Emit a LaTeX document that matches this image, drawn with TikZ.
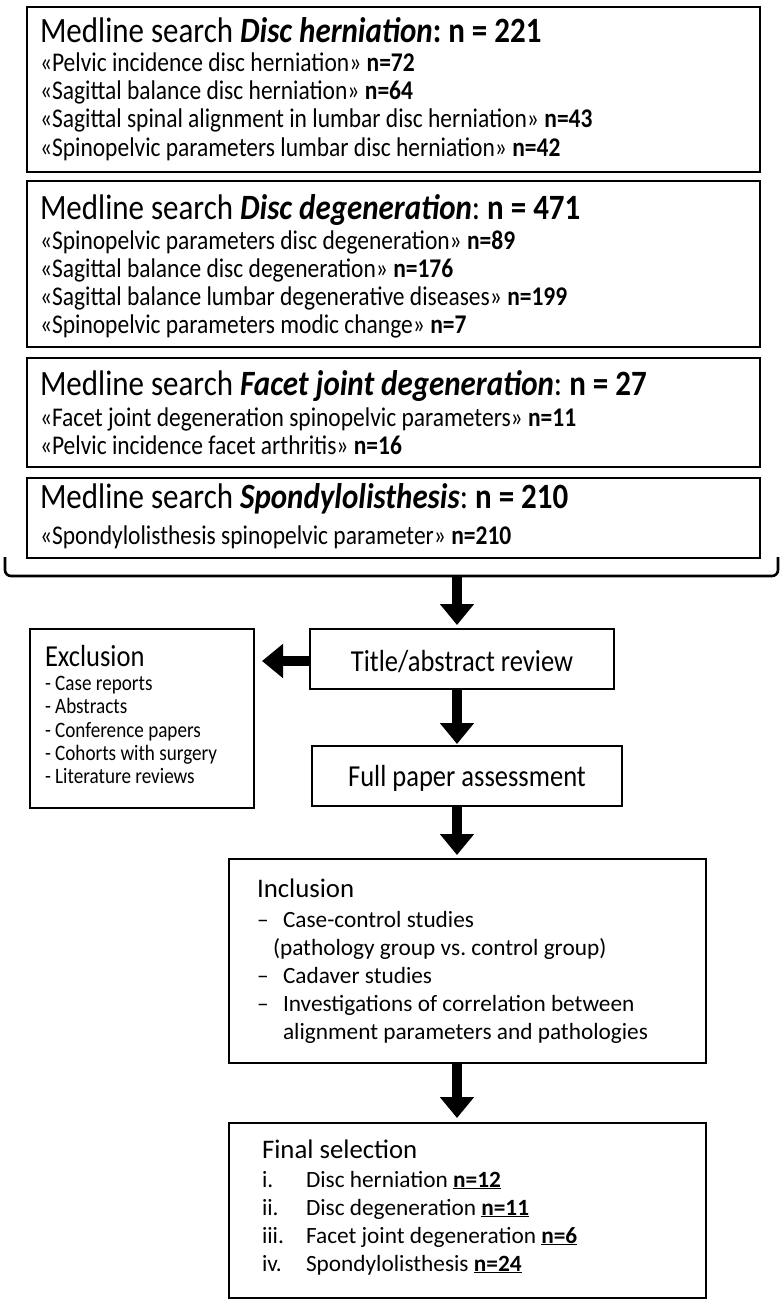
\documentclass[tikz,border=0pt]{standalone}
\usepackage{fontspec}
\setmainfont{Carlito}
\newfontfamily\condfont{Carlito}[FakeStretch=0.87]
\usetikzlibrary{arrows.meta,calc}
\frenchspacing
\newcommand\fsTitle{\condfont\fontsize{35.6}{38}\selectfont}
\newcommand\fsSub{\condfont\fontsize{27}{30}\selectfont}
\newcommand\fsCHead{\condfont\fontsize{30.5}{33}\selectfont}
\newcommand\fsCSmall{\condfont\fontsize{22}{25}\selectfont}
\newcommand\fsHead{\fontsize{26.8}{30}\selectfont}
\newcommand\fsItem{\fontsize{23.3}{28}\selectfont}
\tikzset{
  x=1pt, y=-1pt,
  box/.style={draw, line width=1.8pt, anchor=north west, inner sep=0pt, outer sep=0pt},
  txt/.style={anchor=base west, inner sep=0pt, outer sep=0pt},
  ctxt/.style={anchor=base, inner sep=0pt, outer sep=0pt},
  blk/.style={line width=10.5pt, -{Triangle[width=33pt,length=21pt]}},
  brk/.style={line width=2.6pt, rounded corners=6pt}
}
\begin{document}
\begin{tikzpicture}
\useasboundingbox (0,0) rectangle (782,1303);

% ---------- search boxes ----------
\node[box, minimum width=733pt, minimum height=165pt] (b1) at (27,7) {};
\node[txt] (b1t) at (40,43) {\fsTitle Medline search \textbf{\textit{Disc herniation}}\textbf{: n = 221}};
\node[txt] (b1a) at (40,72)  {\fsSub «Pelvic incidence disc herniation» \textbf{n=72}};
\node[txt] (b1b) at (40,100)  {\fsSub «Sagittal balance disc herniation» \textbf{n=64}};
\node[txt] (b1c) at (40,128) {\fsSub «Sagittal spinal alignment in lumbar disc herniation» \textbf{n=43}};
\node[txt] (b1d) at (40,156) {\fsSub «Spinopelvic parameters lumbar disc herniation» \textbf{n=42}};

\node[box, minimum width=733pt, minimum height=166pt] (b2) at (27,181) {};
\node[txt] (b2t) at (40,219) {\fsTitle Medline search \textbf{\textit{Disc degeneration}}: \textbf{n = 471}};
\node[txt] (b2a) at (40,249) {\fsSub «Spinopelvic parameters disc degeneration» \textbf{n=89}};
\node[txt] (b2b) at (40,277) {\fsSub «Sagittal balance disc degeneration» \textbf{n=176}};
\node[txt] (b2c) at (40,305) {\fsSub «Sagittal balance lumbar degenerative diseases» \textbf{n=199}};
\node[txt] (b2d) at (40,333) {\fsSub «Spinopelvic parameters modic change» \textbf{n=7}};

\node[box, minimum width=733pt, minimum height=109pt] (b3) at (27,358) {};
\node[txt] (b3t) at (40,395) {\fsTitle Medline search \textbf{\textit{Facet joint degeneration}}: \textbf{n = 27}};
\node[txt] (b3a) at (40,426) {\fsSub «Facet joint degeneration spinopelvic parameters» \textbf{n=11}};
\node[txt] (b3b) at (40,454) {\fsSub «Pelvic incidence facet arthritis» \textbf{n=16}};

\node[box, minimum width=733pt, minimum height=80pt] (b4) at (27,478) {};
\node[txt] (b4t) at (40,508) {\fsTitle Medline search \textbf{\textit{Spondylolisthesis}}: \textbf{n = 210}};
\node[txt] (b4a) at (40,544) {\fsSub «Spondylolisthesis spinopelvic parameter» \textbf{n=210}};

% ---------- bracket ----------
\coordinate (bl) at (5,557);
\coordinate (br) at (778,557);
\coordinate (bc) at (457,576);
\draw[brk] (bl) -- (bl |- bc) -- (br |- bc) -- (br);

% ---------- review boxes ----------
\node[box, minimum width=304pt, minimum height=60pt] (title) at (310,629) {};
\node[ctxt] (titlet) at (462,671) {\fsCHead Title/abstract review};

\node[box, minimum width=310pt, minimum height=60pt] (full) at (312,746) {};
\node[ctxt] (fullt) at (467,786) {\fsCHead Full paper assessment};

\node[box, minimum width=224pt, minimum height=179pt] (excl) at (30,629) {};
\node[txt] (exclt) at (45,666) {\fsCHead Exclusion};
\node[txt] (ex1) at (45,690) {\fsCSmall - Case reports};
\node[txt] (ex2) at (45,713) {\fsCSmall - Abstracts};
\node[txt] (ex3) at (45,737) {\fsCSmall - Conference papers};
\node[txt] (ex4) at (45,760) {\fsCSmall - Cohorts with surgery};
\node[txt] (ex5) at (45,783) {\fsCSmall - Literature reviews};

% ---------- inclusion ----------
\node[box, minimum width=477pt, minimum height=204pt] (incl) at (229,859) {};
\node[txt] (inclt) at (257,897) {\fsHead Inclusion};
\node[txt] (in1d) at (257,927) {\fsItem –};
\node[txt] (in1) at (283,927) {\fsItem Case-control studies};
\node[txt] (in1b) at (273,955) {\fsItem (pathology group vs. control group)};
\node[txt] (in2d) at (257,983) {\fsItem –};
\node[txt] (in2) at (283,983) {\fsItem Cadaver studies};
\node[txt] (in3d) at (257,1011) {\fsItem –};
\node[txt] (in3) at (283,1011) {\fsItem Investigations of correlation between};
\node[txt] (in3b) at (283,1039) {\fsItem alignment parameters and pathologies};

% ---------- final selection ----------
\node[box, minimum width=477pt, minimum height=175pt] (final) at (229,1123) {};
\node[txt] (finalt) at (262,1158) {\fsHead Final selection};
\node[txt] (f1n) at (262,1187) {\fsItem i.};
\node[txt] (f1) at (306,1187) {\fsItem Disc herniation \underline{\textbf{n=12}}};
\node[txt] (f2n) at (262,1215) {\fsItem ii.};
\node[txt] (f2) at (306,1215) {\fsItem Disc degeneration \underline{\textbf{n=11}}};
\node[txt] (f3n) at (262,1243) {\fsItem iii.};
\node[txt] (f3) at (306,1243) {\fsItem Facet joint degeneration \underline{\textbf{n=6}}};
\node[txt] (f4n) at (262,1271) {\fsItem iv.};
\node[txt] (f4) at (306,1271) {\fsItem Spondylolisthesis \underline{\textbf{n=24}}};

% ---------- arrows ----------
\draw[blk, shorten >=4pt] (bc) -- (title.north -| bc);
\draw[blk, shorten >=2pt] (title.south -| bc) -- (full.north -| bc);
\draw[blk, shorten >=4pt] (full.south -| bc) -- (incl.north -| bc);
\draw[blk, shorten >=5pt] (incl.south -| bc) -- (final.north -| bc);
\coordinate (la) at ($(title.west)+(0,2)$);
\draw[blk, shorten >=8pt] (la) -- (excl.east |- la);
\end{tikzpicture}
\end{document}
